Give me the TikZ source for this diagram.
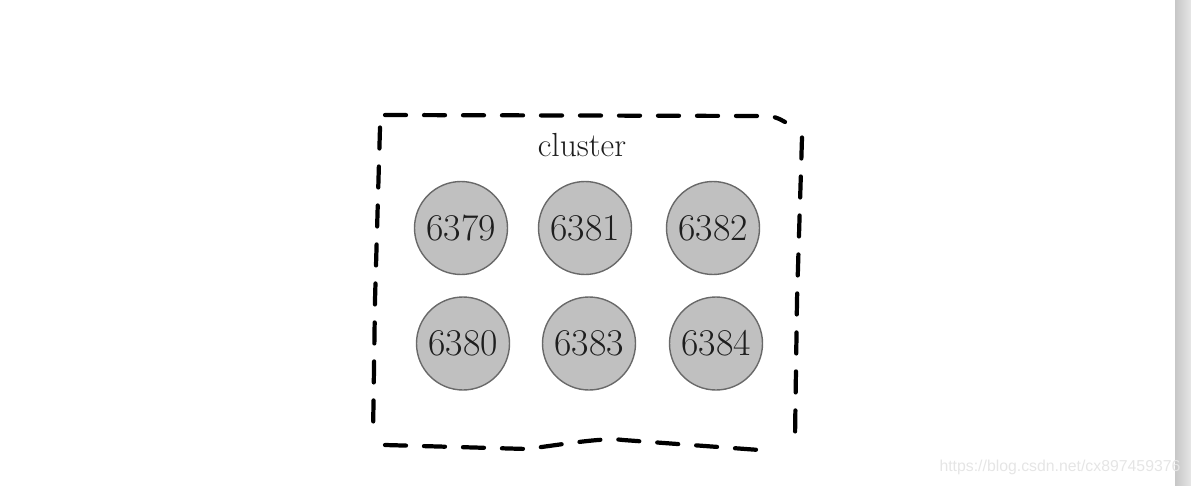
\documentclass[tikz,border=0pt]{standalone}
\usepackage{xcolor}
\usepackage{fontspec}
\usepackage{tikz}
\usetikzlibrary{positioning,shapes}
\newfontfamily\wmfont{Liberation Sans}
\definecolor{nodegray}{RGB}{192,192,192}
\definecolor{rimgray}{RGB}{105,105,105}
\definecolor{inkgray}{RGB}{30,30,30}

\begin{document}
\begin{tikzpicture}[scale=1,
	port/.style={circle,draw=rimgray,line width=0.8pt,fill=nodegray,minimum size=1.86cm,inner sep=0pt,text=inkgray,font=\fontsize{21.5}{23}\selectfont},
	clusterline/.style={line width=2.4pt,line cap=round,dash pattern=on 0.42cm off 0.36cm}]
			\useasboundingbox (0,0) rectangle (23.82,-9.7);
			\fill[left color=black!22,right color=black!10] (23.5,0) rectangle (23.82,-9.7);

			\node[port] (6379) at (9.22,-4.56) {6379};
			\node[port] (6381) at (11.7,-4.56) {6381};
			\node[port] (6382) at (14.26,-4.56) {6382};
			\node[port] (6380) at (9.26,-6.87) {6380};
			\node[port] (6383) at (11.78,-6.87) {6383};
			\node[port] (6384) at (14.32,-6.87) {6384};

			\node[text=inkgray,font=\fontsize{19}{21}\selectfont] (label) at (11.64,-2.9) {cluster};

			\draw[clusterline] (7.7,-2.3) -- (15.2,-2.32) .. controls (15.5,-2.33) .. (15.7,-2.44);
			\draw[clusterline] (16.04,-2.75) -- (15.94,-6.0) -- (15.9,-8.75);
			\draw[clusterline] (7.7,-8.9) -- (10.54,-8.98) .. controls (11.5,-8.85) and (12.1,-8.75) .. (12.46,-8.8) -- (15.46,-9.02);
			\draw[clusterline] (7.6,-2.55) -- (7.5,-6.0) -- (7.46,-8.72);

			\node[text=black!10,font=\wmfont\fontsize{9}{10}\selectfont] (mark) at (21.2,-9.34) {https://blog.csdn.net/cx897459376};
		\end{tikzpicture}
\end{document}
